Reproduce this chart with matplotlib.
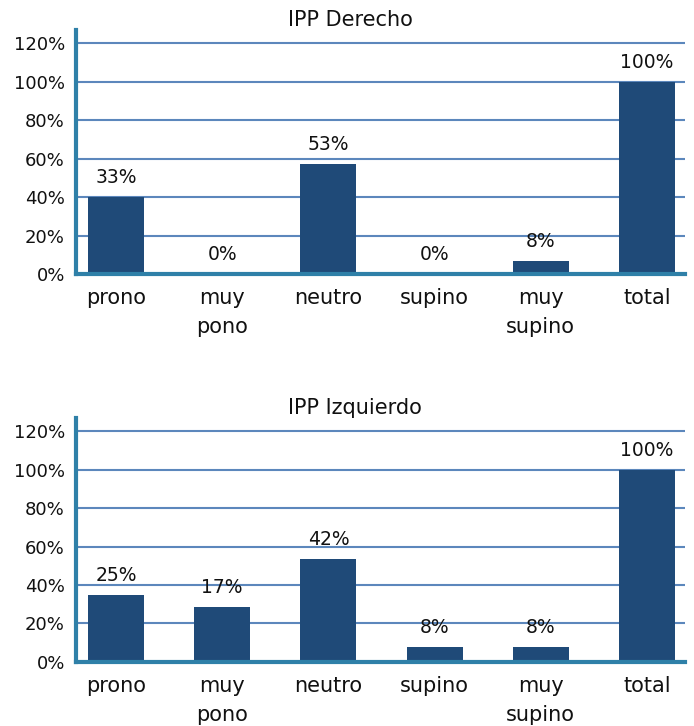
import matplotlib
matplotlib.use("Agg")
import matplotlib.pyplot as plt
from matplotlib.ticker import FuncFormatter

categories = ["prono", "muy\npono", "neutro", "supino", "muy\nsupino", "total"]

title_der = "IPP Derecho"
heights_der = [40, 0, 57, 0, 7, 100]
labels_der = ["33%", "0%", "53%", "0%", "8%", "100%"]

title_izq = "IPP Izquierdo"
heights_izq = [35, 28.5, 53.5, 7.7, 7.7, 100]
labels_izq = ["25%", "17%", "42%", "8%", "8%", "100%"]

yticks = [0, 20, 40, 60, 80, 100, 120]

BAR = "#1f4a78"
GRID = "#4a7ab5"
SPINE = "#2f80a8"

fig = plt.figure(figsize=(6.94, 7.26), dpi=100)
ax1 = fig.add_axes([0.1095, 0.6226, 0.8775, 0.3361])
ax2 = fig.add_axes([0.1095, 0.0886, 0.8775, 0.3356])


def draw(ax, title, heights, labels, title_x):
    x = list(range(len(categories)))
    ax.set_axisbelow(True)
    ax.bar(x, heights, width=0.527, color=BAR, zorder=3)
    for xi, h, lab in zip(x, heights, labels):
        ax.annotate(lab, (xi, h), xytext=(0, 10), textcoords="offset pixels",
                    ha="center", va="bottom", fontsize=13.5, color="#111111")
    ax.set_ylim(0, 127)
    ax.set_xlim(-0.377, 5.358)
    ax.set_yticks(yticks)
    ax.yaxis.set_major_formatter(FuncFormatter(lambda v, p: f"{int(v)}%"))
    ax.set_xticks(x)
    ax.set_xticklabels(categories, fontsize=15, linespacing=1.6, va="top")
    ax.tick_params(axis="y", labelsize=13, length=0, pad=8, labelcolor="#111111")
    ax.tick_params(axis="x", length=0, pad=10, labelcolor="#111111")
    ax.grid(axis="y", color=GRID, linewidth=1.5, alpha=0.9)
    for s in ["top", "right"]:
        ax.spines[s].set_visible(False)
    for s in ["left", "bottom"]:
        ax.spines[s].set_color(SPINE)
        ax.spines[s].set_linewidth(3)
        ax.spines[s].set_zorder(4)
    t = ax.set_title(title, fontsize=15, pad=-2, color="#111111")
    t.set_x(title_x)


draw(ax1, title_der, heights_der, labels_der, 0.45)
draw(ax2, title_izq, heights_izq, labels_izq, 0.458)

fig.savefig("out.png", dpi=100)
